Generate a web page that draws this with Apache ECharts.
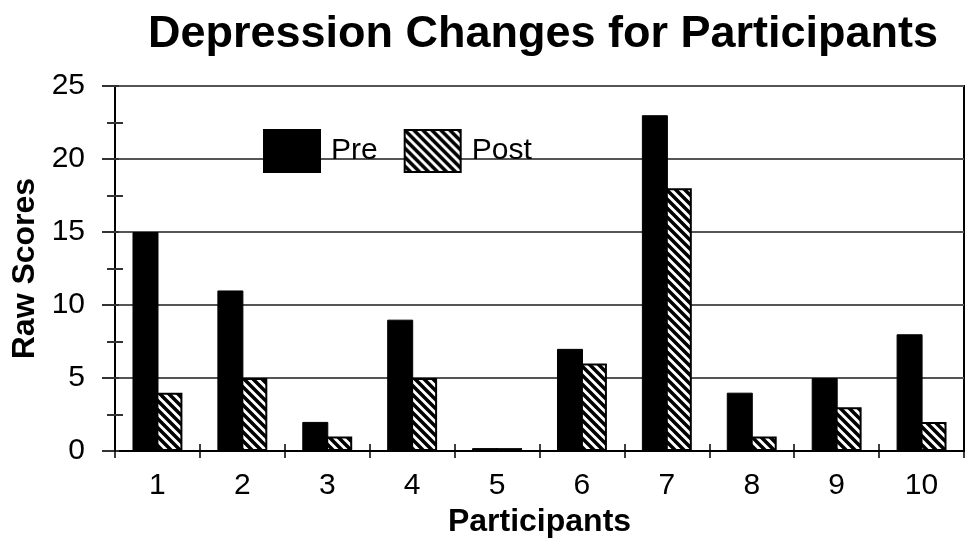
<!DOCTYPE html>
<html><head><meta charset="utf-8">
<script src="https://cdn.jsdelivr.net/npm/echarts@6/dist/echarts.min.js"></script>
<style>html,body{margin:0;padding:0;background:#fff}#c{width:966px;height:543px}</style>
</head><body><div id="c"></div>
<script>
const categories = ['1','2','3','4','5','6','7','8','9','10'];
const preScores = [15, 11, 2, 9, 0, 7, 23, 4, 5, 8];
const postScores = [4, 5, 1, 5, 0, 6, 18, 1, 3, 2];
const yTicks = [0, 5, 10, 15, 20, 25];

function hatch() {
  const s = 9;
  const cv = document.createElement('canvas');
  cv.width = s; cv.height = s;
  const ctx = cv.getContext('2d');
  ctx.fillStyle = '#fff'; ctx.fillRect(0, 0, s, s);
  ctx.strokeStyle = '#000'; ctx.lineWidth = 3.5;
  ctx.beginPath();
  ctx.moveTo(-2, -2); ctx.lineTo(s + 2, s + 2);
  ctx.moveTo(-3, s - 3); ctx.lineTo(3, s + 3);
  ctx.moveTo(s - 3, -3); ctx.lineTo(s + 3, 3);
  ctx.stroke();
  return { image: cv, repeat: 'repeat' };
}
const FONT = 'Liberation Sans, Arial, sans-serif';
const chart = echarts.init(document.getElementById('c'), null, { renderer: 'canvas' });
const yBase = {
  type: 'value', min: yTicks[0], max: yTicks[yTicks.length - 1], interval: 5,
  position: 'left'
};
chart.setOption({
  animation: false,
  title: {
    text: 'Depression Changes for Participants', left: 538, top: 7, textAlign: 'center',
    textStyle: { fontFamily: FONT, fontSize: 45, fontWeight: 'bold', color: '#000' }
  },
  legend: {
    left: 258, top: 124, itemWidth: 56, itemHeight: 42, itemGap: 26,
    icon: 'rect',
    data: ['Pre', 'Post'],
    textStyle: { fontFamily: FONT, fontSize: 30, color: '#000', padding: [2, 0, 0, 6] }
  },
  grid: { left: 115, right: 2, top: 86, bottom: 88, show: true, borderColor: '#000', borderWidth: 2, containLabel: false },
  xAxis: [{
    type: 'category', data: categories,
    axisLine: { lineStyle: { color: '#000', width: 2 } },
    axisTick: { show: true, length: 7, lineStyle: { color: '#000', width: 1.5 } },
    axisLabel: { fontFamily: FONT, fontSize: 30, color: '#000', margin: 20 },
    name: 'Participants', nameLocation: 'middle', nameGap: 52,
    nameTextStyle: { fontFamily: FONT, fontSize: 32, fontWeight: 'bold', color: '#000' }
  }, {
    type: 'category', data: categories, position: 'bottom',
    axisLine: { show: false },
    axisTick: { show: true, inside: true, length: 7, lineStyle: { color: '#000', width: 1.5 } },
    axisLabel: { show: false }
  }],
  yAxis: [Object.assign({}, yBase, {
    axisLine: { show: true, lineStyle: { color: '#000', width: 2 } },
    axisTick: { show: true, length: 13, lineStyle: { color: '#333', width: 2 } },
    minorTick: { show: true, splitNumber: 2, length: 8, lineStyle: { color: '#333', width: 2 } },
    splitLine: { show: true, lineStyle: { color: '#555', width: 2 } },
    axisLabel: { fontFamily: FONT, fontSize: 30, color: '#000', margin: 30 },
    name: 'Raw Scores', nameLocation: 'middle', nameGap: 74, nameRotate: 90,
    nameTextStyle: { fontFamily: FONT, fontSize: 32, fontWeight: 'bold', color: '#000' }
  }), Object.assign({}, yBase, {
    axisLine: { show: false },
    axisTick: { show: true, inside: true, length: 4, lineStyle: { color: '#333', width: 2 } },
    minorTick: { show: true, splitNumber: 2, length: 8, lineStyle: { color: '#333', width: 2 } },
    splitLine: { show: false },
    axisLabel: { show: false }
  })],
  series: [{
    name: 'Pre', type: 'bar', data: preScores, barWidth: 26, barGap: '-8%', barMinHeight: 3,
    itemStyle: { color: '#000', borderColor: '#000', borderWidth: 1 }
  }, {
    name: 'Post', type: 'bar', data: postScores, barWidth: 26, barMinHeight: 3,
    itemStyle: { color: hatch(), borderColor: '#000', borderWidth: 2 }
  }]
});
</script></body></html>
